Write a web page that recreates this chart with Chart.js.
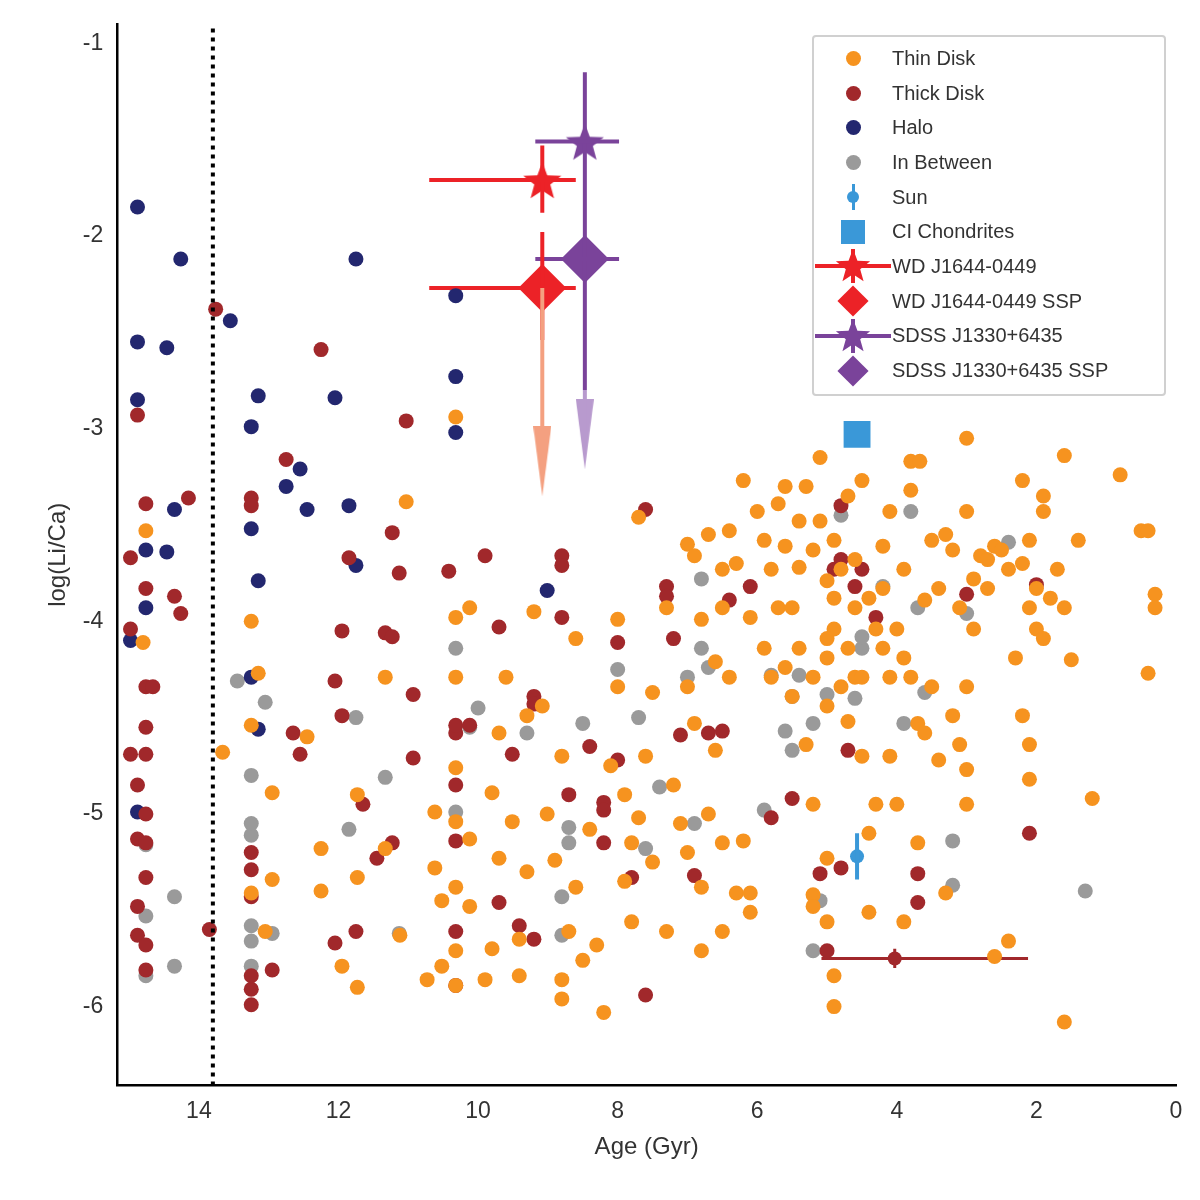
<!DOCTYPE html>
<html>
<head>
<meta charset="utf-8">
<script src="https://cdn.jsdelivr.net/npm/chart.js@4.4.1/dist/chart.umd.min.js"></script>
<style>
  body { margin: 0; background: #fff; }
  #wrap { position: relative; width: 1200px; height: 1200px; }
  #legend { position: absolute; left: 812px; top: 35px; width: 350px; padding: 4px 0 6px 0;
    border: 2px solid #d0d0d0; border-radius: 4px; background: rgba(255,255,255,0.85);
    font-family: "Liberation Sans", Arial, sans-serif; font-size: 20px; color: #333; }
  .row { height: 34.7px; display: flex; align-items: center; }
  .mk { width: 78px; display: flex; justify-content: center; align-items: center; }
</style>
</head>
<body>
<div id="wrap"><canvas id="chartCanvas" width="1200" height="1200"></canvas><div id="legend"></div></div>
<script>
// [age (Gyr), log(Li/Ca)]
const thinDisk = [
  [14.8,-4.11],[14.76,-3.53],[13.66,-4.68],[13.25,-4.0],[13.25,-4.54],[13.15,-4.27],[12.95,-4.89],[12.95,-5.34],
  [13.25,-5.41],[13.05,-5.61],[12.45,-4.6],[12.25,-5.18],[12.25,-5.4],[11.73,-4.9],[11.73,-5.33],[11.95,-5.79],
  [11.73,-5.9],[11.33,-4.29],[11.33,-5.18],[11.03,-3.38],[11.12,-5.63],[10.73,-5.86],
  [10.32,-2.94],[10.32,-3.98],[10.32,-4.29],[10.32,-4.76],[10.32,-5.04],[10.32,-5.38],[10.32,-5.71],[10.32,-5.89],
  [10.52,-5.45],[10.62,-4.99],[10.62,-5.28],[10.12,-3.93],[10.12,-5.48],[10.12,-5.13],[10.52,-5.79],[9.9,-5.86],
  [9.8,-5.7],[9.8,-4.89],[9.7,-5.23],[9.7,-4.58],[9.6,-4.29],[9.51,-5.04],[9.41,-5.84],[9.41,-5.65],[9.3,-4.49],
  [9.3,-5.3],[9.2,-3.95],[9.08,-4.44],[9.01,-5.0],[8.9,-5.24],[8.8,-4.7],[8.8,-5.86],[8.8,-5.96],[8.7,-5.61],
  [8.6,-4.09],[8.6,-5.38],[8.5,-5.76],[8.4,-5.08],[8.3,-5.68],[8.2,-6.03],[8.1,-4.75],[8.0,-4.34],[8.0,-3.99],
  [7.9,-4.9],[7.9,-5.35],[7.8,-5.15],[7.8,-5.56],[7.7,-5.02],[7.7,-3.46],[7.6,-4.7],[7.5,-4.37],[7.5,-5.25],
  [7.3,-5.61],[7.3,-3.93],[7.2,-4.85],[7.1,-5.05],[7.0,-3.6],[7.0,-4.34],[7.0,-5.2],[6.9,-3.66],[6.9,-4.53],
  [6.8,-5.38],[6.8,-3.99],[6.7,-5.0],[6.7,-3.55],[6.6,-4.21],[6.6,-4.67],[6.5,-3.73],[6.5,-3.93],[6.5,-5.15],
  [6.5,-5.61],[6.4,-3.53],[6.4,-4.29],[6.3,-3.7],[6.3,-5.41],[6.2,-5.14],[6.2,-3.27],[6.1,-5.51],[6.1,-3.98],
  [6.0,-3.43],[5.9,-3.58],[5.9,-4.14],[5.8,-3.73],[5.8,-4.29],[5.7,-3.93],[5.7,-3.39],[5.6,-3.3],[5.6,-3.61],
  [5.6,-4.24],[5.5,-3.93],[5.5,-4.39],[5.4,-3.48],[5.4,-3.72],[5.4,-4.14],[5.3,-3.3],[5.3,-4.64],[5.2,-3.63],
  [5.2,-4.29],[5.2,-5.42],[5.2,-5.48],[5.1,-3.15],[5.1,-3.48],[5.0,-3.79],[5.0,-4.19],[5.0,-4.44],[5.0,-5.23],
  [5.0,-5.56],[4.9,-3.88],[4.9,-4.04],[4.9,-3.58],[4.9,-5.84],[4.9,-6.0],[4.8,-4.34],[4.8,-3.73],[4.7,-3.35],
  [4.7,-4.14],[4.7,-4.52],[4.6,-3.93],[4.6,-4.29],[4.6,-3.68],[4.5,-4.29],[4.5,-3.27],[4.5,-4.7],[4.4,-3.88],
  [4.4,-5.51],[4.4,-5.1],[4.3,-4.04],[4.3,-4.95],[4.2,-3.61],[4.2,-4.14],[4.2,-3.83],[4.1,-4.29],[4.1,-3.43],
  [4.1,-4.7],[4.0,-4.04],[4.0,-4.95],[3.9,-3.73],[3.9,-4.19],[3.9,-5.56],[3.8,-3.17],[3.8,-3.32],[3.8,-4.29],
  [3.7,-4.53],[3.7,-5.15],[3.67,-3.17],[3.6,-3.89],[3.6,-4.58],[3.5,-3.58],[3.5,-4.34],[3.4,-3.83],[3.4,-4.72],
  [3.3,-3.55],[3.3,-5.41],[3.2,-3.63],[3.2,-4.49],[3.1,-3.93],[3.1,-4.64],[3.0,-3.43],[3.0,-4.34],[3.0,-4.77],
  [3.0,-4.95],[3.0,-3.05],[2.9,-3.78],[2.9,-4.04],[2.8,-3.66],[2.7,-3.68],[2.7,-3.83],[2.6,-3.61],[2.6,-5.74],
  [2.5,-3.63],[2.4,-3.73],[2.4,-5.66],[2.3,-4.19],[2.2,-4.49],[2.2,-3.27],[2.2,-3.7],[2.1,-3.58],[2.1,-3.93],
  [2.1,-4.64],[2.1,-4.82],[2.0,-4.04],[2.0,-3.83],[1.9,-3.35],[1.9,-3.43],[1.9,-4.09],[1.8,-3.88],[1.7,-3.73],
  [1.6,-3.93],[1.6,-3.14],[1.6,-6.08],[1.5,-4.2],[1.4,-3.58],[1.2,-4.92],[0.8,-3.24],[0.5,-3.53],[0.4,-3.53],
  [0.4,-4.27],[0.3,-3.86],[0.3,-3.93],[6.8,-5.71],[6.1,-5.41],[5.2,-4.95],[5.0,-4.09]
];
const thickDisk = [
  [14.98,-3.67],[14.98,-4.04],[14.98,-4.69],[14.88,-2.93],[14.88,-5.13],[14.88,-5.48],[14.88,-5.63],[14.88,-4.85],
  [14.76,-3.39],[14.76,-3.83],[14.76,-4.34],[14.76,-4.55],[14.76,-4.69],[14.76,-5.0],[14.76,-5.33],[14.76,-5.68],
  [14.76,-5.81],[14.66,-4.34],[14.76,-5.15],[14.35,-3.87],[14.26,-3.96],[14.15,-3.36],[13.85,-5.6],[13.76,-2.38],
  [13.25,-3.36],[13.25,-3.4],[13.25,-5.2],[13.25,-5.29],[13.25,-5.43],[13.25,-5.91],[13.25,-5.99],[13.25,-5.84],
  [12.95,-5.81],[12.75,-3.16],[12.65,-4.58],[12.55,-4.69],[12.25,-2.59],[12.05,-4.31],[12.05,-5.67],[11.95,-4.05],
  [11.95,-4.49],[11.85,-3.67],[11.75,-5.61],[11.65,-4.95],[11.45,-5.23],[11.33,-4.06],[11.23,-4.08],[11.23,-3.54],
  [11.23,-5.15],[11.13,-3.75],[11.03,-2.96],[10.93,-4.38],[10.93,-4.71],[10.42,-3.74],[10.32,-4.58],[10.32,-4.85],
  [10.32,-5.14],[10.32,-5.61],[10.32,-5.89],[10.32,-4.54],[10.12,-4.54],[9.9,-3.66],[9.7,-4.03],[9.7,-5.46],
  [9.51,-4.69],[9.41,-5.58],[9.2,-4.39],[9.2,-4.43],[9.2,-5.65],[8.8,-3.66],[8.8,-3.71],[8.8,-3.98],[8.7,-4.9],
  [8.4,-4.65],[8.2,-4.94],[8.2,-4.98],[8.2,-5.15],[8.0,-4.11],[8.0,-4.72],[7.8,-5.33],[7.6,-3.42],[7.6,-5.94],
  [7.3,-3.82],[7.3,-3.87],[7.2,-4.09],[7.1,-4.59],[6.9,-5.32],[6.7,-4.58],[6.5,-4.57],[6.4,-3.89],[6.1,-3.82],
  [5.8,-5.02],[5.5,-4.92],[5.1,-5.31],[5.0,-5.71],[4.9,-3.73],[4.8,-5.28],[4.8,-3.68],[4.8,-3.4],[4.7,-4.67],
  [4.6,-3.82],[4.5,-3.73],[4.3,-3.98],[3.7,-5.31],[3.7,-5.46],[3.0,-3.86],[2.1,-5.1],[2.0,-3.81]
];
const halo = [
  [14.88,-1.85],[14.88,-2.55],[14.88,-2.85],[14.76,-3.63],[14.76,-3.93],[14.98,-4.1],[14.88,-4.99],[14.46,-2.58],
  [14.46,-3.64],[14.35,-3.42],[14.26,-2.12],[13.55,-2.44],[13.25,-2.99],[13.25,-3.52],[13.25,-4.29],[13.15,-2.83],
  [13.15,-3.79],[13.15,-4.56],[12.75,-3.3],[12.55,-3.21],[12.45,-3.42],[12.05,-2.84],[11.85,-3.4],[11.75,-3.71],
  [11.75,-2.12],[10.32,-2.31],[10.32,-2.73],[10.32,-3.02],[9.01,-3.84]
];
const inBetween = [
  [14.76,-5.16],[14.76,-5.53],[14.76,-5.84],[14.35,-5.43],[14.35,-5.79],[13.45,-4.31],[13.25,-5.11],[13.25,-5.66],
  [13.25,-5.58],[13.25,-4.8],[13.25,-5.05],[13.25,-5.79],[13.05,-4.42],[12.95,-5.62],[11.85,-5.08],[11.75,-4.5],
  [11.33,-4.81],[11.13,-5.62],[10.32,-4.14],[10.32,-4.99],[10.12,-4.55],[10.0,-4.45],[9.3,-4.58],[8.8,-5.43],
  [8.8,-5.63],[8.7,-5.07],[8.7,-5.15],[8.5,-4.53],[8.0,-4.25],[7.7,-4.5],[7.6,-5.18],[7.4,-4.86],[7.0,-4.29],
  [6.9,-5.05],[6.8,-4.14],[6.8,-3.78],[6.7,-4.24],[5.9,-4.98],[5.8,-4.28],[5.6,-4.57],[5.5,-4.39],[5.5,-4.67],
  [5.4,-4.28],[5.2,-4.53],[5.2,-5.71],[5.1,-5.45],[5.0,-4.38],[4.8,-3.45],[4.6,-4.4],[4.5,-4.14],[4.5,-4.08],
  [4.2,-3.82],[3.9,-4.53],[3.8,-3.43],[3.7,-3.93],[3.6,-4.37],[3.2,-5.37],[3.2,-5.14],[3.0,-3.96],[2.4,-3.59],[1.3,-5.4]
];
// special objects: [age, log, ageLow, ageHigh, logLow, logHigh]
const sun = [4.57, -5.22, 4.57, 4.57, -5.34, -5.1];
const ciChondrites = [4.57, -3.03];
const thickErr = [4.03, -5.75, 2.12, 5.08, -5.8, -5.7];
const wdStar = [9.08, -1.71, 8.6, 10.7, -1.88, -1.53];
const wdSSP = [9.08, -2.27, 8.6, 10.7, -2.54, -1.98];
const wdArrowEnd = -3.35;
const sdssStar = [8.47, -1.51, 7.98, 9.18, -1.51, -1.15];
const sdssSSP = [8.47, -2.12, 7.98, 9.18, -2.8, -2.12];
const sdssArrowEnd = -3.21;
const ageCut = 13.8;
const xTicks = [0, 2, 4, 6, 8, 10, 12, 14];
const yTicks = [-6, -5, -4, -3, -2, -1];

const ORANGE = "#f6931f", DARKRED = "#a1282b", NAVY = "#23276f", GRAY = "#9a9a9a";
const SKY = "#3a98d8", RED = "#ec2227", PURPLE = "#7a439a";

function starImage(size, color) {
  const c = document.createElement("canvas");
  c.width = c.height = size;
  const g = c.getContext("2d");
  const r = size / 2, ri = r * 0.42;
  g.beginPath();
  for (let i = 0; i < 10; i++) {
    const a = -Math.PI / 2 + (i * Math.PI) / 5;
    const rr = i % 2 === 0 ? r : ri;
    g.lineTo(r + rr * Math.cos(a), r + rr * Math.sin(a) + size * 0.05);
  }
  g.closePath();
  g.fillStyle = color;
  g.fill();
  return c;
}
function arrowHead(color) {
  const c = document.createElement("canvas");
  c.width = 18; c.height = 70;
  const g = c.getContext("2d");
  g.beginPath();
  g.moveTo(0, 0); g.lineTo(18, 0); g.lineTo(9, 70); g.closePath();
  g.fillStyle = color;
  g.fill();
  return c;
}

const pts = (arr) => arr.map((p) => ({ x: p[0], y: p[1] }));
const scatter = (label, data, color) => ({
  label, data: pts(data), backgroundColor: color, borderColor: color,
  pointRadius: 7.5, pointHoverRadius: 7.5, borderWidth: 0, showLine: false,
});
const seg = (x1, y1, x2, y2, color, width) => ({
  label: "", data: [{ x: x1, y: y1 }, { x: x2, y: y2 }], showLine: true,
  borderColor: color, borderWidth: width, pointRadius: 0, pointHoverRadius: 0,
});
const errBars = (o, color, w) => [
  seg(o[2], o[1], o[3], o[1], color, w),
  seg(o[0], o[4], o[0], o[5], color, w),
];

const datasets = [
  { ...seg(ageCut, -6.41, ageCut, -0.9, "#000", 4), borderDash: [4, 5] },
  scatter("Thin Disk", thinDisk, ORANGE),
  scatter("Thick Disk", thickDisk, DARKRED),
  scatter("Halo", halo, NAVY),
  scatter("In Between", inBetween, GRAY),
  ...errBars(thickErr, DARKRED, 3),
  { ...scatter("", [thickErr.slice(0, 2)], DARKRED), pointRadius: 7 },
  ...errBars(sun, SKY, 4),
  { ...scatter("Sun", [sun.slice(0, 2)], SKY), pointRadius: 7 },
  { label: "CI Chondrites", data: pts([ciChondrites]), backgroundColor: SKY, borderColor: SKY,
    pointStyle: "rect", pointRadius: 19, pointHoverRadius: 19, borderWidth: 0, showLine: false },
  // upper-limit arrows
  seg(wdSSP[0], wdSSP[1], wdSSP[0], wdArrowEnd + 0.2, "#f4a080", 4),
  { label: "", data: [{ x: wdSSP[0], y: wdArrowEnd + 0.18 }], pointStyle: arrowHead("#f4a080"),
    pointRadius: 10, showLine: false },
  seg(sdssSSP[0], -2.8, sdssSSP[0], sdssArrowEnd + 0.2, "#b89ace", 4),
  { label: "", data: [{ x: sdssSSP[0], y: sdssArrowEnd + 0.18 }], pointStyle: arrowHead("#b89ace"),
    pointRadius: 10, showLine: false },
  ...errBars(wdStar, RED, 4),
  ...errBars(wdSSP, RED, 4),
  ...errBars(sdssStar, PURPLE, 4),
  ...errBars(sdssSSP, PURPLE, 4),
  seg(sdssStar[0], sdssStar[1], sdssSSP[0], sdssSSP[1], PURPLE, 4),
  { label: "WD J1644-0449", data: pts([wdStar]), pointStyle: starImage(40, RED), showLine: false },
  { label: "WD J1644-0449 SSP", data: pts([wdSSP]), backgroundColor: RED, borderColor: RED,
    pointStyle: "rectRot", pointRadius: 24, pointHoverRadius: 24, borderWidth: 0, showLine: false },
  { label: "SDSS J1330+6435", data: pts([sdssStar]), pointStyle: starImage(40, PURPLE), showLine: false },
  { label: "SDSS J1330+6435 SSP", data: pts([sdssSSP]), backgroundColor: PURPLE, borderColor: PURPLE,
    pointStyle: "rectRot", pointRadius: 24, pointHoverRadius: 24, borderWidth: 0, showLine: false },
];

// legend built as html
const legendItems = [
  ["Thin Disk", "circle", ORANGE], ["Thick Disk", "circle", DARKRED], ["Halo", "circle", NAVY],
  ["In Between", "circle", GRAY], ["Sun", "sun", SKY], ["CI Chondrites", "square", SKY],
  ["WD J1644-0449", "star", RED], ["WD J1644-0449 SSP", "diamond", RED],
  ["SDSS J1330+6435", "star", PURPLE], ["SDSS J1330+6435 SSP", "diamond", PURPLE],
];
const legend = document.getElementById("legend");
legendItems.forEach(([text, kind, color]) => {
  const row = document.createElement("div");
  row.className = "row";
  const mk = document.createElement("div");
  mk.className = "mk";
  let html = "";
  if (kind === "circle") html = `<div style="width:15px;height:15px;border-radius:50%;background:${color}"></div>`;
  if (kind === "sun") html = `<div style="position:relative;width:15px;height:26px;display:flex;align-items:center;justify-content:center">
      <div style="position:absolute;left:6px;top:0;width:3px;height:26px;background:${color}"></div>
      <div style="width:12px;height:12px;border-radius:50%;background:${color};position:relative"></div></div>`;
  if (kind === "square") html = `<div style="width:24px;height:24px;background:${color}"></div>`;
  if (kind === "diamond") html = `<div style="width:22px;height:22px;background:${color};transform:rotate(45deg)"></div>`;
  if (kind === "star") html = `<div style="position:relative;width:76px;height:34px">
      <div style="position:absolute;left:0;top:15px;width:76px;height:4px;background:${color}"></div>
      <div style="position:absolute;left:36px;top:0;width:4px;height:34px;background:${color}"></div>
      <img src="${starImage(36, color).toDataURL()}" style="position:absolute;left:20px;top:-2px"></div>`;
  mk.innerHTML = html;
  const label = document.createElement("span");
  label.textContent = text;
  row.appendChild(mk);
  row.appendChild(label);
  legend.appendChild(row);
});

new Chart(document.getElementById("chartCanvas"), {
  type: "scatter",
  data: { datasets },
  options: {
    responsive: false,
    animation: false,
    devicePixelRatio: 1,
    layout: { padding: { left: 40, right: 22, top: 22, bottom: 34 } },
    scales: {
      x: {
        type: "linear", reverse: true, min: 0, max: 15.17,
        afterBuildTicks: (s) => { s.ticks = xTicks.map((v) => ({ value: v })); },
        grid: { display: false, drawTicks: true, tickLength: 8, tickColor: "#000", tickWidth: 2 },
        border: { color: "#000", width: 2.5 },
        ticks: { autoSkip: false, maxRotation: 0, color: "#333", font: { family: "Liberation Sans", size: 23 }, padding: 4 },
        title: { display: true, text: "Age (Gyr)", color: "#333", font: { family: "Liberation Sans", size: 24 } },
      },
      y: {
        type: "linear", min: -6.41, max: -0.9,
        afterBuildTicks: (s) => { s.ticks = yTicks.map((v) => ({ value: v })); },
        grid: { display: false, drawTicks: true, tickLength: 8, tickColor: "#000", tickWidth: 2 },
        border: { color: "#000", width: 2.5 },
        ticks: { autoSkip: false, color: "#333", font: { family: "Liberation Sans", size: 23 }, padding: 6 },
        title: { display: true, text: "log(Li/Ca)", color: "#333", font: { family: "Liberation Sans", size: 24 } },
      },
    },
    plugins: {
      tooltip: { enabled: false },
      legend: { display: false },
    },
  },
});
</script>
</body>
</html>
